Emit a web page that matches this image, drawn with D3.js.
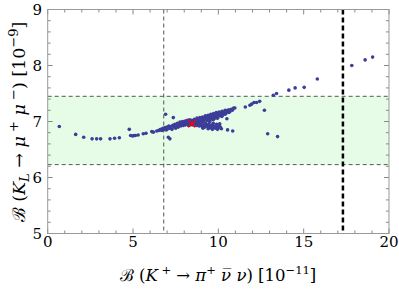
<!DOCTYPE html>
<html>
<head>
<meta charset="utf-8">
<script src="https://cdn.jsdelivr.net/npm/d3@7"></script>
<style>
body { margin: 0; background: #fff; }
</style>
</head>
<body>
<svg></svg>
<script>
var xTicks = [0, 5, 10, 15, 20];
var yTicks = [5, 6, 7, 8, 9];
var bandY = [6.23, 7.45];
var expLineX = 6.8;
var boundX = 17.3;
var bestFit = [8.44, 6.96];

// scattered points
var sparsePoints = [
	[0.68,6.91],[1.64,6.77],[2.11,6.72],[2.60,6.69],[2.87,6.69],[3.10,6.69],[3.65,6.69],[3.92,6.70],[4.20,6.71],
	[4.78,6.86],[4.86,6.75],[4.98,6.74],[5.06,6.75],[5.14,6.75],[5.30,6.76],[5.60,6.78],[5.76,6.79],
	[6.10,6.82],[6.19,6.81],[6.39,6.83],[6.50,6.84],[6.58,6.85],[6.91,7.13],[7.07,6.72],[7.16,6.69],[7.36,7.07],
	[10.50,7.05],[10.54,6.85],[10.84,6.83],[11.58,7.26],[11.85,7.29],[11.95,7.31],[12.09,7.34],[12.24,7.34],[12.42,7.36],
	[12.70,7.20],[12.89,6.78],[13.47,6.73],[13.22,7.47],[13.41,7.50],[14.13,7.56],[14.50,7.60],[15.03,7.61],
	[15.80,7.76],[17.82,8.00],[18.60,8.10],[19.04,8.15]
];

// dense band between roughly 6.6 and 11
var densePoints = [
	[6.62,6.86],[6.70,6.84],[6.75,6.88],[6.82,6.86],[6.88,6.89],[6.95,6.85],[7.00,6.90],[7.05,6.87],[7.10,6.92],
	[7.15,6.88],[7.22,6.91],[7.28,6.86],[7.33,6.93],[7.40,6.90],[7.45,6.95],[7.50,6.88],[7.55,6.92],[7.60,6.97],
	[7.65,6.90],[7.70,6.94],[7.75,6.99],[7.80,6.92],[7.85,6.96],[7.90,7.00],[7.95,6.93],[8.00,6.97],[8.05,7.01],
	[8.08,6.94],[8.12,6.98],[8.18,7.02],[8.22,6.95],[8.28,6.99],[8.32,7.03],[8.36,6.94],[8.40,6.98],[8.45,7.02],
	[8.50,6.96],[8.55,7.00],[8.60,7.04],[8.62,6.93],[8.66,6.98],[8.70,7.02],[8.75,7.06],[8.80,6.99],[8.85,7.03],
	[8.88,6.92],[8.92,7.07],[8.96,7.01],[9.00,7.05],[9.05,6.91],[9.08,7.08],[9.12,7.02],[9.16,7.06],[9.20,6.90],
	[9.24,7.10],[9.28,7.04],[9.32,7.08],[9.36,6.91],[9.40,7.11],[9.44,7.06],[9.48,7.09],[9.52,6.89],[9.56,7.13],
	[9.60,7.07],[9.64,7.11],[9.68,6.90],[9.72,7.14],[9.76,7.09],[9.80,7.12],[9.84,6.88],[9.88,7.16],[9.92,7.10],
	[9.96,7.14],[10.00,6.89],[10.05,7.17],[10.10,7.12],[10.15,7.15],[10.18,6.87],[10.22,7.18],[10.28,7.14],
	[10.34,7.17],[10.40,7.20],[10.46,7.15],[10.52,7.19],[10.60,7.21],[10.68,7.18],[10.75,7.22],[10.82,7.20],
	[10.90,7.24],[10.97,7.24],
	[8.70,6.95],[8.95,6.94],[9.15,6.93],[9.30,6.94],[9.45,6.92],[9.60,6.93],[9.75,6.92],[9.90,6.91],[10.05,6.92],
	[10.12,6.90],[9.10,6.88],[9.40,6.87],[9.65,6.86],[9.95,6.86],[8.25,6.93],[8.48,6.94],[8.58,6.97],[8.30,6.96],
	[7.90,6.95],[8.15,6.96],[8.40,6.95],[8.85,6.97],[9.05,6.98],[9.25,6.97],[9.50,7.00],[9.70,7.03],[9.95,7.06],
	[10.20,7.09],[10.40,7.13],[10.62,7.16],
	[9.15,7.00],[9.35,7.02],[9.55,7.04],[9.80,7.06],[10.00,7.09],[10.25,7.11],[9.45,6.96],[9.70,6.97],[9.90,6.95],
	[10.08,6.96],[8.75,6.93],[9.00,6.95]
];

var width = 399, height = 291;
var pLeft = 47.7, pTop = 9.5, pRight = 389, pBottom = 233.5;
var serif = "'DejaVu Serif', 'Liberation Serif', serif";

var svg = d3.select("svg")
	.attr('width', width)
	.attr('height', height)
	.style('background', '#ffffff');

var x = d3.scaleLinear().domain([0, 20]).range([pLeft, pRight]);
var y = d3.scaleLinear().domain([5, 9]).range([pBottom, pTop]);

// green band
svg.append('rect')
	.attr('x', x(0)).attr('width', x(20) - x(0))
	.attr('y', y(bandY[1])).attr('height', y(bandY[0]) - y(bandY[1]))
	.style('fill', '#e6fce6');

// dashed lines
bandY.forEach(function (v){
	svg.append('line')
		.attr('x1', x(0)).attr('x2', x(20))
		.attr('y1', y(v)).attr('y2', y(v))
		.style('stroke', '#555').style('stroke-width', 1).style('stroke-dasharray', '4,3');
});
svg.append('line')
	.attr('x1', x(expLineX)).attr('x2', x(expLineX))
	.attr('y1', y(9)).attr('y2', y(5))
	.style('stroke', '#555').style('stroke-width', 1).style('stroke-dasharray', '4,3');
svg.append('line')
	.attr('x1', x(boundX)).attr('x2', x(boundX))
	.attr('y1', y(9)).attr('y2', y(5))
	.style('stroke', '#000').style('stroke-width', 2.5).style('stroke-dasharray', '5,3');

// points
svg.append('g').selectAll('circle').data(sparsePoints.concat(densePoints))
	.enter().append('circle')
		.attr('cx', function (d){ return x(d[0]); })
		.attr('cy', function (d){ return y(d[1]); })
		.attr('r', 1.8)
		.style('fill', '#3d3d99');

// red cross
var s = 3.5;
svg.append('path')
	.attr('d', 'M' + (x(bestFit[0]) - s) + ',' + (y(bestFit[1]) - s) + 'L' + (x(bestFit[0]) + s) + ',' + (y(bestFit[1]) + s) +
		'M' + (x(bestFit[0]) - s) + ',' + (y(bestFit[1]) + s) + 'L' + (x(bestFit[0]) + s) + ',' + (y(bestFit[1]) - s))
	.style('stroke', '#ff0000').style('stroke-width', 1.6).style('fill', 'none');

// frame ticks
var tickColor = '#888';
var xMinor = d3.range(0, 21, 1);
var yMinor = d3.range(5, 9.001, 0.2);
xMinor.forEach(function (t){
	var len = (t % 5 === 0) ? 5 : 3;
	svg.append('line').attr('x1', x(t)).attr('x2', x(t)).attr('y1', pBottom).attr('y2', pBottom - len).style('stroke', tickColor);
	svg.append('line').attr('x1', x(t)).attr('x2', x(t)).attr('y1', pTop).attr('y2', pTop + len).style('stroke', tickColor);
});
yMinor.forEach(function (t){
	var len = (Math.abs(t - Math.round(t)) < 1e-6) ? 5 : 3;
	svg.append('line').attr('y1', y(t)).attr('y2', y(t)).attr('x1', pLeft).attr('x2', pLeft + len).style('stroke', tickColor);
	svg.append('line').attr('y1', y(t)).attr('y2', y(t)).attr('x1', pRight).attr('x2', pRight - len).style('stroke', tickColor);
});

svg.append('rect')
	.attr('x', pLeft).attr('y', pTop).attr('width', pRight - pLeft).attr('height', pBottom - pTop)
	.style('fill', 'none').style('stroke', '#999').style('stroke-width', 1);

// tick labels
svg.selectAll('.xl').data(xTicks).enter().append('text')
	.attr('x', function (d){ return x(d); })
	.attr('y', 247)
	.attr('text-anchor', 'middle')
	.attr('font-family', serif)
	.attr('font-size', 15)
	.text(function (d){ return d; });
svg.selectAll('.yl').data(yTicks).enter().append('text')
	.attr('x', 42)
	.attr('y', function (d){ return y(d) + 5; })
	.attr('text-anchor', 'end')
	.attr('font-family', serif)
	.attr('font-size', 15)
	.text(function (d){ return d; });

// axis titles built from pieces
function addPieces(t, pieces, supSize){
	var shift = 0;
	pieces.forEach(function (p){
		var ts = t.append('tspan').text(p[0]);
		var want = 0;
		if (p[1] === 'sup') want = -7;
		if (p[1] === 'sub') want = 4;
		if (want !== shift) ts.attr('dy', want - shift);
		shift = want;
		if (p[1] === 'sup' || p[1] === 'sub') ts.attr('font-size', supSize);
		if (p[2] === 'it') ts.attr('font-style', 'italic');
	});
}

var xt = svg.append('text')
	.attr('x', 218).attr('y', 281)
	.attr('text-anchor', 'middle')
	.attr('font-family', serif)
	.attr('font-size', 16.5);
addPieces(xt, [
	['\u212C (', ''], ['K', '', 'it'], [' +', 'sup'], [' \u2192 ', ''], ['\u03C0', '', 'it'], ['+', 'sup'],
	[' \u03BD\u0305 \u03BD', '', 'it'], [') [10', ''], ['\u221211', 'sup'], [']', '']
], 11.5);

var yt = svg.append('text')
	.attr('transform', 'translate(25,122) rotate(-90)')
	.attr('text-anchor', 'middle')
	.attr('font-family', serif)
	.attr('font-size', 17.5);
addPieces(yt, [
	['\u212C (', ''], ['K', '', 'it'], ['L', 'sub', 'it'], [' \u2192 ', ''], ['\u03BC', '', 'it'], [' +', 'sup', 'it'],
	[' \u03BC', '', 'it'], [' \u2212', 'sup'], [') [10', ''], ['\u22129', 'sup'], [']', '']
], 13);
</script>
</body>
</html>
